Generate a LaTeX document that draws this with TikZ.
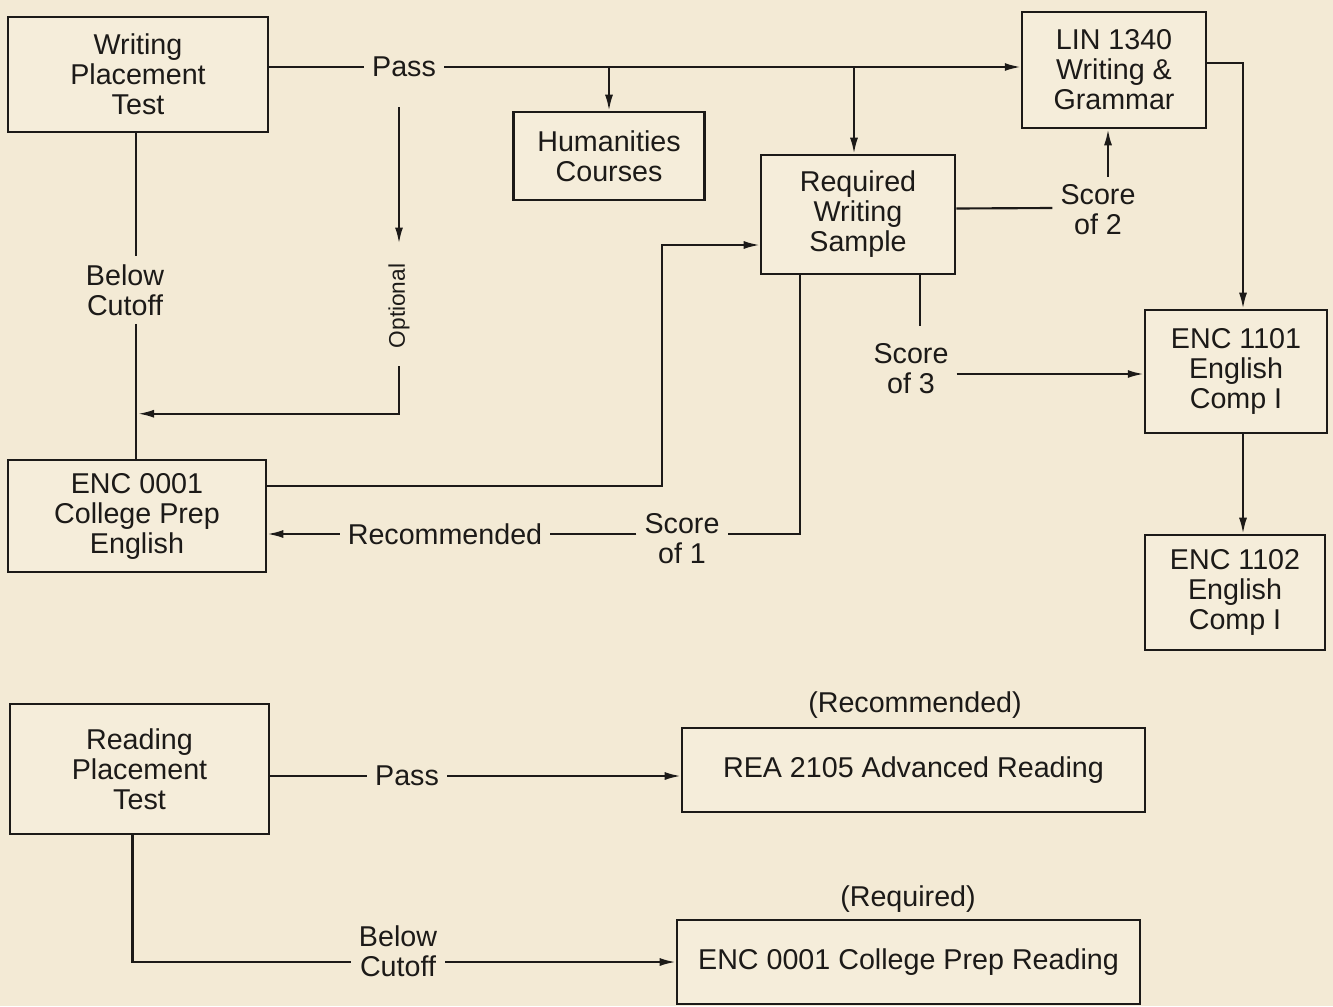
\documentclass[tikz,border=0pt]{standalone}
\usepackage{fontspec}
\setmainfont{Liberation Sans}
\usetikzlibrary{arrows.meta,calc}
\definecolor{bg}{RGB}{243,234,213}
\definecolor{boxfill}{RGB}{245,237,218}
\definecolor{ink}{RGB}{28,26,24}
\newcommand\dfont{\fontsize{21.5}{22.5}\selectfont}
\newcommand\sfont{\fontsize{17}{18}\selectfont}
\begin{document}
\begin{tikzpicture}[x=0.75pt,y=-0.75pt,
  box/.style={draw=ink, line width=1.9pt, fill=boxfill, align=center, font=\dfont, text=ink, inner sep=0pt},
  lbl/.style={text=ink, align=center, font=\dfont, inner sep=6pt},
  conn/.style={draw=ink, line width=1.6pt},
  arr/.style={conn, -{Latex[length=12pt,width=6pt]}}]
\fill[bg] (0,0) rectangle (1333,1006);
\useasboundingbox (0,0) rectangle (1333,1006);

% boxes
\node[box, minimum width=195pt, minimum height=86.25pt] (wpt) at (138,74.5) {Writing\\Placement\\Test};
\node[box, minimum width=143.25pt, minimum height=66pt] (hum) at (609,156) {Humanities\\Courses};
\node[box, minimum width=145.5pt, minimum height=89.25pt] (rws) at (858,214.5) {Required\\Writing\\Sample};
\node[box, minimum width=138pt, minimum height=87pt] (lin) at (1114,70) {LIN 1340\\Writing \&\\Grammar};
\node[box, minimum width=136.5pt, minimum height=92.25pt] (e1101) at (1236,371.5) {ENC 1101\\English\\Comp I};
\node[box, minimum width=135pt, minimum height=86.25pt] (e1102) at (1235,592.5) {ENC 1102\\English\\Comp I};
\node[box, minimum width=193.5pt, minimum height=84pt] (e0001) at (137,516) {ENC 0001\\College Prep\\English};
\node[box, minimum width=194.25pt, minimum height=97.5pt] (rpt) at (139.5,769) {Reading\\Placement\\Test};
\node[box, minimum width=347.25pt, minimum height=63pt] (rea) at (913.5,770) {REA 2105 Advanced Reading};
\node[box, minimum width=347.25pt, minimum height=63pt] (encr) at (908.5,962) {ENC 0001 College Prep Reading};

% labels
\node[lbl] (passW) at (404,67) {Pass};
\node[lbl] (belowW) at (125,290) {Below\\Cutoff};
\node[lbl, font=\sfont, rotate=90] (opt) at (399,306) {Optional};
\node[lbl] (score2) at (1098,210) {Score\\of 2};
\node[lbl] (score3) at (911,369) {Score\\of 3};
\node[lbl] (score1) at (682,539) {Score\\of 1};
\node[lbl] (rec) at (445,534) {Recommended};
\node[lbl] (passR) at (407,776) {Pass};
\node[lbl] (belowR) at (398,951) {Below\\Cutoff};
\node[lbl] (recL) at (915,705) {(Recommended)};
\node[lbl] (reqL) at (908,899) {(Required)};

% writing test connectors
\draw[conn] (wpt.east |- passW) -- (passW.west);
\draw[arr] (passW.east) -- (lin.west |- passW);
\draw[arr] (hum.north |- passW) -- (hum.north);
\draw[arr] ($(rws.north |- passW)+(-4,0)$) -- ($(rws.north)+(-4,0)$);
\draw[arr] ($(lin.east)+(0,-7)$) -| ($(e1101.north)+(7,0)$);
\draw[arr] ($(e1101.south)+(7,0)$) -- ($(e1102.north)+(8,0)$);

\draw[conn] ($(rws.east)+(0,-6)$) -- ($(score2.west)+(0,-2)$);
\draw[arr] ($(score2.north)+(10,0)$) -- ($(lin.south)+(-6,0)$);

\draw[conn] ($(rws.south)+(62,0)$) -- ($(rws.south)+(62,51)$);
\draw[arr] ($(score3.east)+(0,5)$) -- ($(e1101.west)+(0,2.5)$);

\draw[conn] ($(rws.south)+(-58,0)$) |- ($(score1.east)+(0,-5)$);
\draw[conn] ($(score1.west)+(0,-5)$) -- (rec.east);
\draw[arr] (rec.west) -- (e0001.east |- rec.west);

\draw[arr] ($(e0001.east)+(0,-30)$) -| ($(rws.west)+(-98,30.5)$) -- ($(rws.west)+(0,30.5)$);

\draw[conn] ($(wpt.south)+(-2,0)$) -- ($(wpt.south |- belowW.north)+(-2,0)$);
\draw[conn] ($(e0001.north |- belowW.south)+(-1,0)$) -- ($(e0001.north)+(-1,0)$);

\draw[arr] ($(passW.south)+(-5,22)$) -- ($(opt.east)+(0,-12)$);
\draw[arr] ($(opt.west)+(0,10)$) |- ($(e0001.north)+(1,-45)$);

% reading test connectors
\draw[conn] (rpt.east |- passR.west) -- (passR.west);
\draw[arr] (passR.east) -- (rea.west |- passR.east);
\draw[conn] ($(rpt.south)+(-7,0)$) |- ($(belowR.west)+(0,11)$);
\draw[arr] ($(belowR.east)+(0,11)$) -- (encr.west |- {$(belowR.east)+(0,11)$});
\end{tikzpicture}
\end{document}
